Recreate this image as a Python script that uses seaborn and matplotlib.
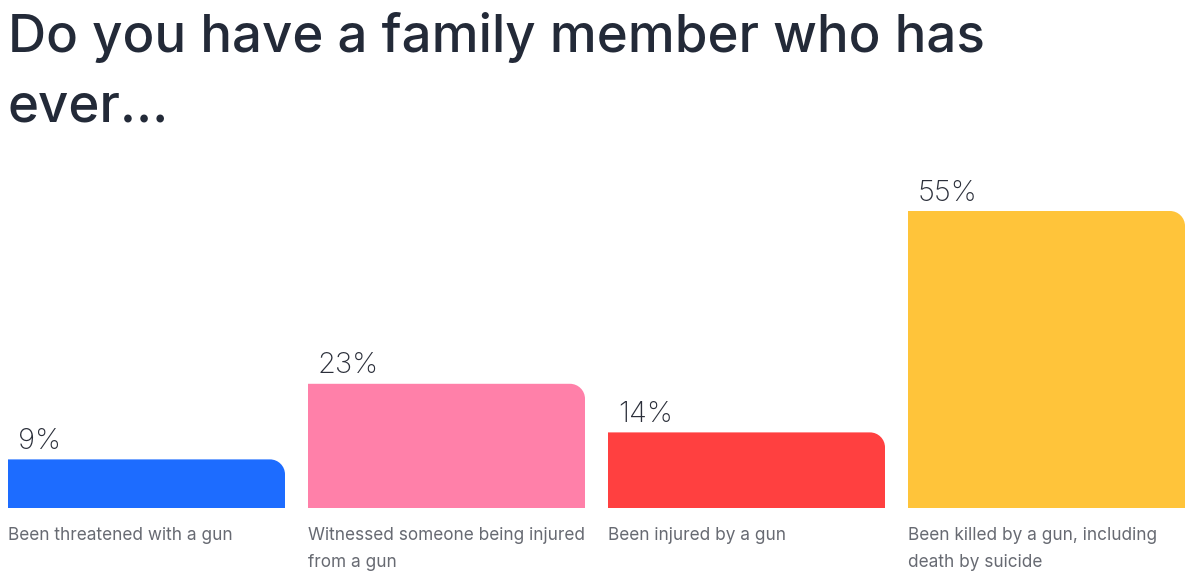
import matplotlib
matplotlib.use("Agg")
import matplotlib.pyplot as plt
import seaborn as sns
from matplotlib.path import Path
from matplotlib.patches import PathPatch

sns.set_theme(style="white")
plt.rcParams["font.family"] = ["Inter", "DejaVu Sans"]

categories = [
    "Been threatened with a gun",
    "Witnessed someone being injured\nfrom a gun",
    "Been injured by a gun",
    "Been killed by a gun, including\ndeath by suicide",
]
values = [9, 23, 14, 55]
colors = ["#1d6cff", "#ff80a9", "#ff4040", "#ffc43a"]

title = "Do you have a family member who has\never..."

fig = plt.figure(figsize=(12, 5.71), dpi=100)
ax = fig.add_axes([8 / 1200, 63 / 571, 1177 / 1200, 324 / 571])

sns.barplot(x=list(range(len(values))), y=values, hue=list(range(len(values))),
            palette=colors, legend=False, width=277 / 300, ax=ax)
ax.set_xlim(-0.5 * 277 / 300, 3 + 0.5 * 277 / 300)
ax.set_ylim(0, 60)
ax.axis("off")

# swap the plain rectangles for bars with a rounded top-right corner
fig.canvas.draw()
sx = ax.transData.transform((1, 0))[0] - ax.transData.transform((0, 0))[0]
sy = ax.transData.transform((0, 1))[1] - ax.transData.transform((0, 0))[1]
r_px = 15
rx, ry = r_px / sx, r_px / sy
k = 0.5523
for p, col, val, lab in zip(list(ax.patches), colors, values, categories):
    x0, w, h = p.get_x(), p.get_width(), p.get_height()
    x1 = x0 + w
    verts = [(x0, 0), (x1, 0), (x1, h - ry),
             (x1, h - ry + k * ry), (x1 - rx + k * rx, h), (x1 - rx, h),
             (x0, h), (x0, 0)]
    codes = [Path.MOVETO, Path.LINETO, Path.LINETO,
             Path.CURVE4, Path.CURVE4, Path.CURVE4,
             Path.LINETO, Path.CLOSEPOLY]
    p.remove()
    ax.add_patch(PathPatch(Path(verts, codes), facecolor=col, edgecolor="none"))

    ax.annotate(f"{val}%", xy=(x0, h), xytext=(7, 7.5), textcoords="offset points",
                ha="left", va="baseline", fontsize=21, fontweight="light",
                color="#2b2f3a", annotation_clip=False)
    ax.annotate(lab, xy=(x0, 0), xytext=(0, -13.5), textcoords="offset points",
                ha="left", va="top", fontsize=12.4, color="#676a72",
                linespacing=1.8, annotation_clip=False)

fig.text(8 / 1200, 1 - 12 / 571, title, ha="left", va="top",
         fontsize=38, fontweight="medium", color="#232a38", linespacing=1.55)

fig.savefig("out.png", dpi=100, facecolor="white")
